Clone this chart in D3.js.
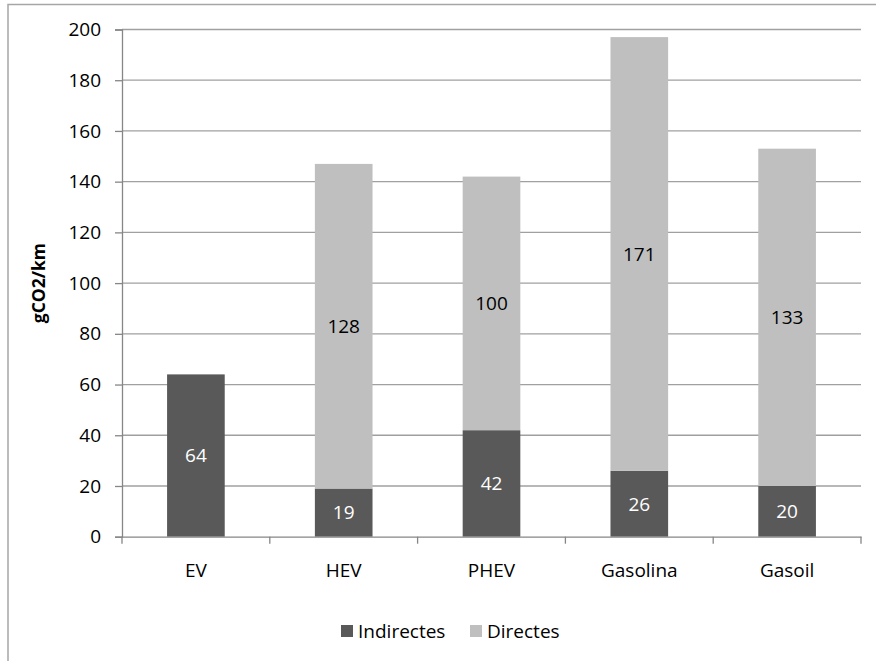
<!DOCTYPE html>
<html>
<head>
<meta charset="utf-8">
<script src="https://cdn.jsdelivr.net/npm/d3@7"></script>
<style>
  body { margin: 0; background: #fff; }
  text { font-family: "Open Sans", sans-serif; }
</style>
</head>
<body>
<script>
let categories = ["EV", "HEV", "PHEV", "Gasolina", "Gasoil"],
  indirectes = [64, 19, 42, 26, 20],
  directes = [0, 128, 100, 171, 133],
  yTicks = [0, 20, 40, 60, 80, 100, 120, 140, 160, 180, 200];

let seriesNames = ["Indirectes", "Directes"],
  colors = ["#595959", "#bfbfbf"],
  labelColors = ["#fff", "#000"];

let W = 876, H = 661;
let margin = { top: 29.5, left: 122 };
let width = 861 - margin.left,
  height = 536.7 - margin.top;
let fs = 19;

let svg = d3.select("body").append("svg")
  .attr("width", W)
  .attr("height", H);

// outer frame (cut off at right and bottom)
svg.append("rect")
  .attr("x", 8).attr("y", 4.5)
  .attr("width", W + 10).attr("height", H + 10)
  .attr("fill", "none")
  .attr("stroke", "#a6a6a6")
  .attr("stroke-width", 1.5);

let g = svg.append("g")
  .attr("transform", "translate(" + margin.left + "," + margin.top + ")");

let x = d3.scaleBand().domain(categories).range([0, width]).paddingInner(0.61).paddingOuter(0.305);
let y = d3.scaleLinear().domain([0, 200]).range([height, 0]);

// gridlines
g.selectAll(".grid")
  .data(yTicks.filter(d => d > 0))
  .enter().append("line")
  .attr("x1", 0).attr("x2", width)
  .attr("y1", d => y(d)).attr("y2", d => y(d))
  .attr("stroke", "#a0a0a0")
  .attr("stroke-width", 1.3);

let data = categories.map((c, i) => ({ cat: c, Indirectes: indirectes[i], Directes: directes[i] }));
let stacked = d3.stack().keys(seriesNames)(data);

stacked.forEach((layer, li) => {
  g.selectAll(".bar" + li)
    .data(layer.filter(d => d[1] > d[0]))
    .enter().append("rect")
    .attr("x", d => x(d.data.cat))
    .attr("width", x.bandwidth())
    .attr("y", d => y(d[1]))
    .attr("height", d => y(d[0]) - y(d[1]))
    .attr("fill", colors[li]);

  g.selectAll(".lab" + li)
    .data(layer.filter(d => d[1] > d[0]))
    .enter().append("text")
    .attr("x", d => x(d.data.cat) + x.bandwidth() / 2)
    .attr("y", d => (y(d[0]) + y(d[1])) / 2)
    .attr("dy", "0.36em")
    .attr("text-anchor", "middle")
    .attr("font-size", fs)
    .attr("fill", labelColors[li])
    .text(d => d[1] - d[0]);
});

// y axis
let yAxis = g.append("g")
  .call(d3.axisLeft(y).tickValues(yTicks).tickSize(7).tickPadding(14));
yAxis.select(".domain").attr("stroke", "#868686").attr("stroke-width", 1.3);
yAxis.selectAll(".tick line").attr("stroke", "#868686").attr("stroke-width", 1.3);
yAxis.selectAll(".tick text")
  .attr("font-family", "Open Sans, sans-serif")
  .attr("font-size", fs)
  .attr("fill", "#000");

// x axis
let xAxis = g.append("g")
  .attr("transform", "translate(0," + height + ")")
  .call(d3.axisBottom(x).tickSize(0).tickPadding(27));
xAxis.select(".domain").attr("stroke", "#868686").attr("stroke-width", 1.3);
xAxis.selectAll(".tick text")
  .attr("font-family", "Open Sans, sans-serif")
  .attr("font-size", fs)
  .attr("fill", "#000");

// category separator ticks
let step = width / categories.length;
g.selectAll(".sep")
  .data(d3.range(categories.length + 1))
  .enter().append("line")
  .attr("x1", d => d * step).attr("x2", d => d * step)
  .attr("y1", height).attr("y2", height + 7)
  .attr("stroke", "#868686")
  .attr("stroke-width", 1.3);

// y title
svg.append("text")
  .attr("transform", "translate(45," + (margin.top + height / 2) + ") rotate(-90)")
  .attr("text-anchor", "middle")
  .attr("font-size", 17.5)
  .attr("font-weight", "bold")
  .text("gCO2/km");

// legend
let legendPos = [341, 470];
let legend = svg.selectAll(".leg")
  .data(seriesNames)
  .enter().append("g")
  .attr("transform", (d, i) => "translate(" + legendPos[i] + ",625)");
legend.append("rect")
  .attr("width", 12).attr("height", 12)
  .attr("fill", (d, i) => colors[i]);
legend.append("text")
  .attr("x", 17).attr("y", 6)
  .attr("dy", "0.36em")
  .attr("font-size", fs)
  .text(d => d);
</script>
</body>
</html>
